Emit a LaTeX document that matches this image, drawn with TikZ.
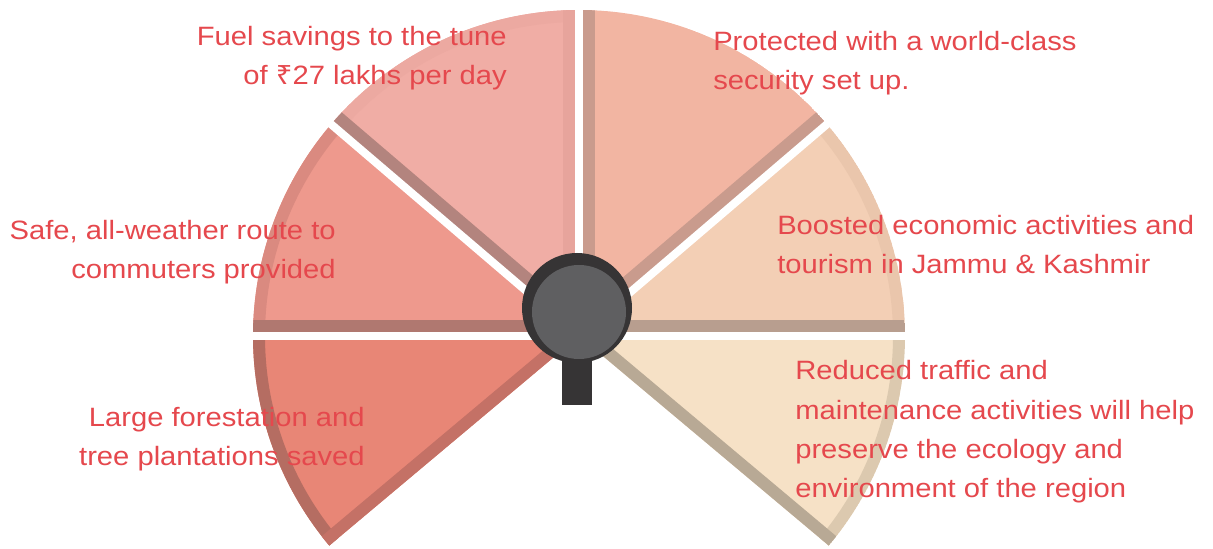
\documentclass[tikz,border=0pt]{standalone}
\usepackage{fontspec}
\setmainfont{Liberation Sans}[FakeStretch=1.1]
\newfontfamily\rupeefont{Noto Sans}[FakeStretch=1.1]
\usepackage{tikz}
\usetikzlibrary{calc}

% wedge fills and their bevel shades
\definecolor{txtred}{HTML}{E5484D}
\definecolor{wfuel}{HTML}{F0ADA5}
\definecolor{wfuelA}{HTML}{B3847E}
\definecolor{wfuelB}{HTML}{E7A49C}
\definecolor{wfuelC}{HTML}{ECA9A1}
\definecolor{wsafe}{HTML}{EE998D}
\definecolor{wsafeA}{HTML}{B07870}
\definecolor{wsafeB}{HTML}{DA8A80}
\definecolor{wforest}{HTML}{E88676}
\definecolor{wforestA}{HTML}{C47166}
\definecolor{wforestB}{HTML}{B56D62}
\definecolor{wsecure}{HTML}{F2B5A2}
\definecolor{wsecureA}{HTML}{C99B8D}
\definecolor{wboost}{HTML}{F3CFB5}
\definecolor{wboostA}{HTML}{B89E8F}
\definecolor{wboostB}{HTML}{EAC6AC}
\definecolor{wecol}{HTML}{F6E1C6}
\definecolor{wecolA}{HTML}{B8A995}
\definecolor{wecolB}{HTML}{DCC9AF}
\definecolor{knobdark}{HTML}{363435}
\definecolor{knobface}{HTML}{5F5F61}

\begin{document}
\begin{tikzpicture}[x=0.75pt,y=0.75pt]
  \tikzset{
    lblr/.style={
      anchor=base east,
      align=right,
      inner sep=0pt,
      text=txtred,
      font=\fontsize{19.9}{29.5}\selectfont,
    },
    lbll/.style={lblr, anchor=base west, align=left},
    bevel/.style={line width=24pt}, % edge next to a gap (gap eats 4px)
    rim/.style={line width=18pt},   % outer edges, 12px inside
    gap/.style={white, line width=6pt},
  }
  \useasboundingbox (0,0) rectangle (1213,549);
  \coordinate (c) at (579,213);
  \def\R{326}

  % fuel savings
  \begin{scope}
    \clip (c) -- ++(90:\R) arc[start angle=90, end angle=139.5, radius=\R] -- cycle;
    \fill[wfuel] (c) circle (\R);
    \draw[rim, wfuelC] (c) circle (\R);
    \draw[bevel, wfuelB] (c) -- ++(90:\R);
    \draw[bevel, wfuelA] (c) -- ++(139.5:\R);
  \end{scope}
  % safe route
  \begin{scope}
    \clip (c) -- ++(139.5:\R) arc[start angle=139.5, end angle=180, radius=\R] -- cycle;
    \fill[wsafe] (c) circle (\R);
    \draw[rim, wsafeB] (c) circle (\R);
    \draw[bevel, wsafeA] (c) -- ++(180:\R);
  \end{scope}
  % forestation
  \begin{scope}
    \clip (c) -- ++(180:\R) arc[start angle=180, end angle=220, radius=\R] -- cycle;
    \fill[wforest] (c) circle (\R);
    \draw[rim, wforestB] (c) circle (\R);
    \draw[rim, wforestA] (c) -- ++(220:\R);
  \end{scope}
  % security
  \begin{scope}
    \clip (c) -- ++(40.5:\R) arc[start angle=40.5, end angle=90, radius=\R] -- cycle;
    \fill[wsecure] (c) circle (\R);
    \draw[bevel, wsecureA] (c) -- ++(90:\R);
    \draw[bevel, wsecureA] (c) -- ++(40.5:\R);
  \end{scope}
  % economy
  \begin{scope}
    \clip (c) -- ++(0:\R) arc[start angle=0, end angle=40.5, radius=\R] -- cycle;
    \fill[wboost] (c) circle (\R);
    \draw[rim, wboostB] (c) circle (\R);
    \draw[bevel, wboostA] (c) -- ++(0:\R);
  \end{scope}
  % ecology
  \begin{scope}
    \clip (c) -- ++(-40:\R) arc[start angle=-40, end angle=0, radius=\R] -- cycle;
    \fill[wecol] (c) circle (\R);
    \draw[rim, wecolB] (c) circle (\R);
    \draw[rim, wecolA] (c) -- ++(-40:\R);
  \end{scope}

  % white gaps between the wedges
  \draw[gap] (c) -- ++(90:340);
  \draw[gap] (c) -- ++(139.5:340);
  \draw[gap] (c) -- ++(180:340);
  \draw[gap] (c) -- ++(40.5:340);
  \draw[gap] (c) -- ++(0:340);

  % knob in the middle
  \fill[knobdark] (562,144) rectangle (592,241);
  \fill[knobdark] (577,241) circle (55);
  \fill[knobface] (579,237) circle (47);

  % base anchor sits on the last line
  \node[lblr] (fuel) at (507,464) {Fuel savings to the tune\\of {\rupeefont ₹}27 lakhs per day};
  \node[lbll] (secure) at (713,459) {Protected with a world-class\\security set up.};
  \node[lblr] (safe) at (336,270) {Safe, all-weather route to\\commuters provided};
  \node[lbll] (boost) at (777,275) {Boosted economic activities and\\tourism in Jammu \& Kashmir};
  \node[lbll] (ecol) at (795,51) {Reduced traffic and\\maintenance activities will help\\preserve the ecology and\\environment of the region};
  \node[lblr] (forest) at (365,83) {Large forestation and\\tree plantations saved};
\end{tikzpicture}
\end{document}
